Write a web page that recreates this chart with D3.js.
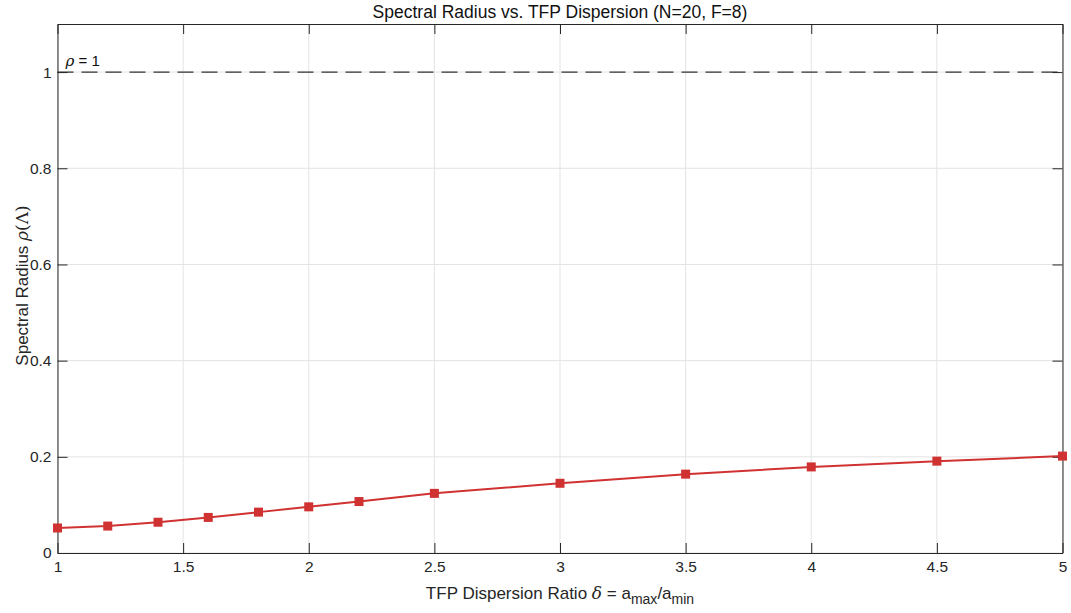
<!DOCTYPE html>
<html>
<head>
<meta charset="utf-8">
<script src="https://cdn.jsdelivr.net/npm/d3@7"></script>
<style>
  body { margin: 0; background: #fff; }
  text { font-family: "Liberation Sans", Arial, Helvetica, sans-serif; }
</style>
</head>
<body>
<div id="chart"></div>
<script>
// Data
var deltaVals = [1, 1.2, 1.4, 1.6, 1.8, 2, 2.2, 2.5, 3, 3.5, 4, 4.5, 5];
var rhoVals   = [0.052, 0.056, 0.064, 0.074, 0.085, 0.096, 0.107, 0.124, 0.145, 0.164, 0.179, 0.191, 0.2015];
var xTicks = [1, 1.5, 2, 2.5, 3, 3.5, 4, 4.5, 5];
var yTicks = [0, 0.2, 0.4, 0.6, 0.8, 1];

var W = 1071, H = 613;
var margin = { left: 57.5, right: 8.5, top: 24, bottom: 60 };
var axisColor = '#262626';
var red = '#d03232';

var svg = d3.select('#chart').append('svg')
  .attr('width', W).attr('height', H);

var x = d3.scaleLinear().domain([1, 5]).range([margin.left, W - margin.right]);
var y = d3.scaleLinear().domain([0, 1.1]).range([H - margin.bottom, margin.top]);

// Grid
var grid = svg.append('g').attr('class', 'grid');
grid.selectAll('line.gx').data(xTicks).enter().append('line')
  .attr('x1', function(d) { return x(d); }).attr('x2', function(d) { return x(d); })
  .attr('y1', y(0)).attr('y2', y(1.1))
  .attr('stroke', '#e3e3e3').attr('stroke-width', 1);
grid.selectAll('line.gy').data(yTicks).enter().append('line')
  .attr('x1', x(1)).attr('x2', x(5))
  .attr('y1', function(d) { return y(d); }).attr('y2', function(d) { return y(d); })
  .attr('stroke', '#e3e3e3').attr('stroke-width', 1);

// Reference line rho = 1
svg.append('line')
  .attr('x1', x(1)).attr('x2', x(5))
  .attr('y1', y(1)).attr('y2', y(1))
  .attr('stroke', '#333').attr('stroke-width', 1.3)
  .attr('stroke-dasharray', '16,8');

var rhoLbl = svg.append('text')
  .attr('x', x(1) + 8).attr('y', y(1) - 6)
  .attr('font-size', 15).attr('fill', '#111');
rhoLbl.append('tspan').attr('font-style', 'italic').attr('font-family', 'DejaVu Serif, serif').text('ρ');
rhoLbl.append('tspan').text(' = 1');

// Axes (box with inward ticks)
var fmt = function(d) { return String(d); };
svg.append('g')
  .attr('transform', 'translate(0,' + y(0) + ')')
  .call(d3.axisBottom(x).tickValues(xTicks).tickFormat(fmt).tickSizeInner(-10).tickSizeOuter(0).tickPadding(8));
svg.append('g')
  .attr('transform', 'translate(0,' + y(1.1) + ')')
  .call(d3.axisTop(x).tickValues(xTicks).tickFormat('').tickSizeInner(-10).tickSizeOuter(0));
svg.append('g')
  .attr('transform', 'translate(' + x(1) + ',0)')
  .call(d3.axisLeft(y).tickValues(yTicks).tickFormat(fmt).tickSizeInner(-10).tickSizeOuter(0).tickPadding(6));
svg.append('g')
  .attr('transform', 'translate(' + x(5) + ',0)')
  .call(d3.axisRight(y).tickValues(yTicks).tickFormat('').tickSizeInner(-10).tickSizeOuter(0));

svg.selectAll('.domain').attr('stroke', axisColor).attr('stroke-width', 1);
svg.selectAll('.tick line').attr('stroke', axisColor).attr('stroke-width', 1);
svg.selectAll('.tick text').attr('fill', axisColor).attr('font-size', 15.5)
  .attr('font-family', '"Liberation Sans", Arial, sans-serif');

// Series line
var pts = deltaVals.map(function(d, i) { return [d, rhoVals[i]]; });
svg.append('path')
  .datum(pts)
  .attr('fill', 'none')
  .attr('stroke', red).attr('stroke-width', 2)
  .attr('d', d3.line().x(function(d) { return x(d[0]); }).y(function(d) { return y(d[1]); }));

var ms = 9;
svg.selectAll('rect.mk').data(pts).enter().append('rect')
  .attr('x', function(d) { return x(d[0]) - ms / 2; })
  .attr('y', function(d) { return y(d[1]) - ms / 2; })
  .attr('width', ms).attr('height', ms)
  .attr('fill', red);

// Title
svg.append('text')
  .attr('x', (x(1) + x(5)) / 2).attr('y', 18)
  .attr('text-anchor', 'middle').attr('font-size', 17.5).attr('fill', '#111')
  .text('Spectral Radius vs. TFP Dispersion (N=20, F=8)');

// X label
var xl = svg.append('text')
  .attr('x', (x(1) + x(5)) / 2).attr('y', 599)
  .attr('text-anchor', 'middle').attr('font-size', 17).attr('fill', '#262626');
xl.append('tspan').text('TFP Dispersion Ratio ');
xl.append('tspan').attr('font-style', 'italic').attr('font-family', 'DejaVu Serif, serif').text('δ');
xl.append('tspan').text(' = a');
xl.append('tspan').attr('font-size', 14).attr('dy', 5).text('max');
xl.append('tspan').attr('dy', -5).text('/a');
xl.append('tspan').attr('font-size', 14).attr('dy', 5).text('min');

// Y label
var yl = svg.append('text')
  .attr('transform', 'translate(28,' + ((y(0) + y(1.1)) / 2 - 3) + ') rotate(-90)')
  .attr('text-anchor', 'middle').attr('font-size', 17).attr('fill', '#262626');
yl.append('tspan').text('Spectral Radius ');
yl.append('tspan').attr('font-style', 'italic').attr('font-family', 'DejaVu Serif, serif').text('ρ');
yl.append('tspan').attr('font-family', 'DejaVu Serif, serif').text('(Λ)');
</script>
</body>
</html>
